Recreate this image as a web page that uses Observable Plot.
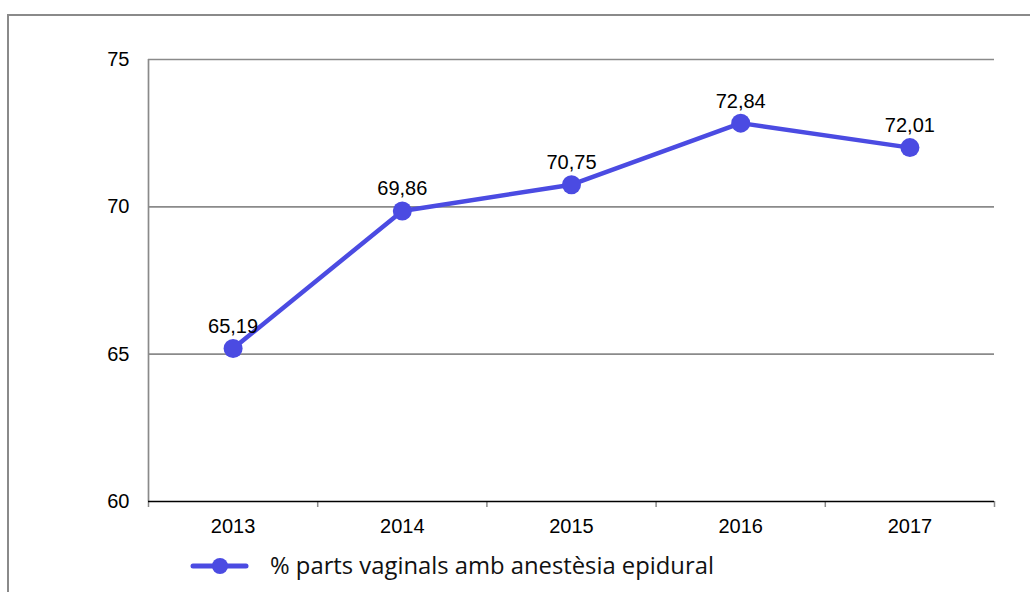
<!DOCTYPE html>
<html>
<head>
<meta charset="utf-8">
<script src="https://cdn.jsdelivr.net/npm/d3@7"></script>
<script src="https://cdn.jsdelivr.net/npm/@observablehq/plot@0.6"></script>
<style>
  html, body { margin: 0; padding: 0; background: #fff; overflow: hidden; }
  #wrap { position: relative; width: 1030px; height: 592px; }
  #frame { position: absolute; left: 7px; top: 14px; width: 1100px; height: 700px; border: 2px solid #8a8a8a; box-sizing: border-box; pointer-events: none; }
  #chart { position: absolute; left: 0; top: 0; }
  #legend { position: absolute; left: 0; top: 540px; width: 1030px; height: 52px; }
  #legend svg { position: absolute; left: 190px; top: 16px; }
  #legend span { position: absolute; left: 270px; top: 10px; font-family: "Open Sans", sans-serif; font-size: 23.8px; color: #111; line-height: 30px; white-space: nowrap; }
</style>
</head>
<body>
<div id="wrap">
  <div id="frame"></div>
  <div id="chart"></div>
  <div id="legend"></div>
</div>
<script>
const years = [2013, 2014, 2015, 2016, 2017];
const values = [65.19, 69.86, 70.75, 72.84, 72.01];
const yTicks = [60, 65, 70, 75];
const seriesName = "% parts vaginals amb anestèsia epidural";
const color = "#4B4BE2";

const data = years.map((year, i) => ({year, value: values[i]}));
const bounds = [...years.map(y => y - 0.5), years[years.length - 1] + 0.5];
const fmt = v => v.toFixed(2).replace(".", ",");

const plot = Plot.plot({
  width: 1030,
  height: 540,
  marginLeft: 148,
  marginRight: 36,
  marginTop: 59,
  marginBottom: 39,
  style: {fontFamily: "'Liberation Sans', Arial, sans-serif", fontSize: "20px", color: "#000", background: "transparent"},
  x: {type: "linear", domain: [bounds[0], bounds[bounds.length - 1]], axis: null, label: null},
  y: {domain: [yTicks[0], yTicks[yTicks.length - 1]], axis: null, label: null},
  marks: [
    Plot.ruleY(yTicks.slice(1), {stroke: "#8a8a8a", strokeWidth: 1.7}),
    Plot.ruleX([bounds[0]], {stroke: "#8a8a8a", strokeWidth: 1.7}),
    Plot.axisX(bounds, {tickFormat: () => "", tickSize: 6, stroke: "#8a8a8a", strokeWidth: 1.5, label: null}),
    Plot.ruleY([yTicks[0]], {stroke: "#000", strokeWidth: 1.5}),
    Plot.axisX(years, {tickFormat: d => String(d), tickSize: 0, tickPadding: 17, fontSize: 20, fill: "#000", label: null}),
    Plot.axisY(yTicks, {tickSize: 0, tickPadding: 19, fontSize: 20, fill: "#000", label: null}),
    Plot.line(data, {x: "year", y: "value", stroke: color, strokeWidth: 4.5}),
    Plot.dot(data, {x: "year", y: "value", r: 9.5, fill: color, stroke: "none"}),
    Plot.text(data, {x: "year", y: "value", text: d => fmt(d.value), dy: -22, fontSize: 20, fill: "#000"})
  ]
});
document.getElementById("chart").append(plot);

const legend = document.getElementById("legend");
legend.innerHTML = `<svg width="60" height="20"><line x1="3" y1="10" x2="56" y2="10" stroke="${color}" stroke-width="5" stroke-linecap="round"/><circle cx="30" cy="10" r="8" fill="${color}"/></svg><span></span>`;
legend.querySelector("span").textContent = seriesName;
</script>
</body>
</html>
